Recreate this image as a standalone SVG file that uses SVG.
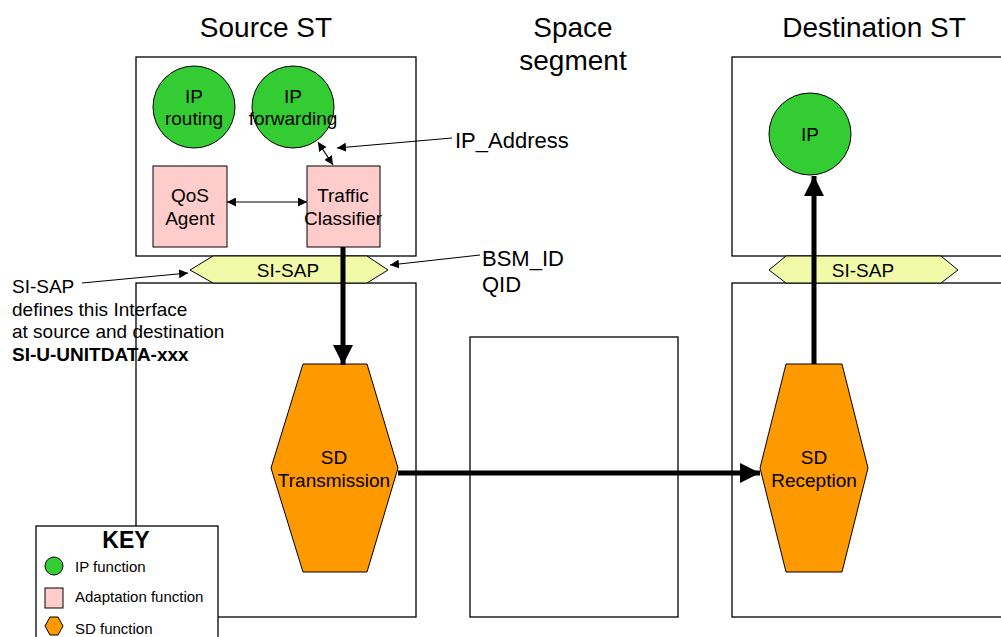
<svg xmlns="http://www.w3.org/2000/svg" width="1001" height="637" viewBox="0 0 1001 637">
<style>
text{font-family:"Liberation Sans",Arial,sans-serif;fill:#000}
.box{fill:#fff;stroke:#000;stroke-width:1.3}
.ip{fill:#33CC33;stroke:#000;stroke-width:1}
.ad{fill:#FFCCCC;stroke:#000;stroke-width:1}
.sd{fill:#FF9900;stroke:#000;stroke-width:1}
.sap{fill:#F0FAA8;stroke:#000;stroke-width:1}
.t19{font-size:19px;text-anchor:middle}
.t22{font-size:22px}
.title{font-size:28px;text-anchor:middle}
.thin{stroke:#000;stroke-width:1.2;fill:none}
.thick{stroke:#000;stroke-width:5;fill:none}
</style>
<defs>
<marker id="ah" viewBox="0 0 10 10" refX="10" refY="5" markerWidth="9" markerHeight="9" markerUnits="userSpaceOnUse" orient="auto-start-reverse"><path d="M0,0L10,5L0,10z" fill="#000"/></marker>
<marker id="ahb" viewBox="0 0 10 10" refX="10" refY="5" markerWidth="4" markerHeight="4" orient="auto"><path d="M0,0L10,5L0,10z" fill="#000"/></marker>
</defs>
<g id="titles">
<text class="title" x="266" y="37">Source ST</text>
<text class="title" x="573" y="37">Space</text>
<text class="title" x="573" y="70">segment</text>
<text class="title" x="874" y="37">Destination ST</text>
</g>
<g id="source-upper"><rect class="box" x="136" y="57" width="280" height="199"/></g>
<g id="source-lower"><rect class="box" x="136" y="283" width="280" height="334"/></g>
<g id="space-box"><rect class="box" x="470" y="337" width="208" height="280"/></g>
<g id="dest-upper"><rect class="box" x="732" y="57" width="280" height="199"/></g>
<g id="dest-lower"><rect class="box" x="732" y="283" width="280" height="334"/></g>
<g id="ip-routing"><circle class="ip" cx="194" cy="107" r="41"/><text class="t19" x="194" y="103">IP</text><text class="t19" x="194" y="125">routing</text></g>
<g id="ip-forwarding"><circle class="ip" cx="293" cy="107" r="41"/><text class="t19" x="293" y="103">IP</text><text class="t19" x="293" y="125">forwarding</text></g>
<g id="qos-agent"><rect class="ad" x="153" y="166" width="74" height="81"/><text class="t19" x="190" y="202">QoS</text><text class="t19" x="190" y="225">Agent</text></g>
<g id="traffic-classifier"><rect class="ad" x="307" y="166" width="73" height="81"/><text class="t19" x="343" y="202">Traffic</text><text class="t19" x="343" y="225">Classifier</text></g>
<g id="ip-dest"><circle class="ip" cx="810" cy="134" r="41"/><text class="t19" x="810" y="141">IP</text></g>
<g id="si-sap-src"><polygon class="sap" points="190,270 213,256 367,256 388,270 367,283 213,283"/><text class="t19" x="288" y="277">SI-SAP</text></g>
<g id="si-sap-dst"><polygon class="sap" points="769,270 786,256 941,256 958,270 941,283 786,283"/><text class="t19" x="863" y="277">SI-SAP</text></g>
<g id="sd-transmission"><polygon class="sd" points="303,364 367,364 398,468 367,572 303,572 271,468"/><text class="t19" x="334" y="464">SD</text><text class="t19" x="334" y="487">Transmission</text></g>
<g id="sd-reception"><polygon class="sd" points="786,364 842,364 868,468 842,572 786,572 760,468"/><text class="t19" x="814" y="464">SD</text><text class="t19" x="814" y="487">Reception</text></g>
<g id="connectors">
<line class="thick" x1="343" y1="247" x2="343" y2="365" marker-end="url(#ahb)"/>
<line class="thick" x1="398" y1="473" x2="760" y2="473" marker-end="url(#ahb)"/>
<line class="thick" x1="814" y1="364" x2="814" y2="176" marker-end="url(#ahb)"/>
<line class="thin" x1="227" y1="202" x2="307" y2="202" marker-start="url(#ah)" marker-end="url(#ah)"/>
<line class="thin" x1="318" y1="142" x2="333" y2="165" marker-start="url(#ah)" marker-end="url(#ah)"/>
<line class="thin" x1="452" y1="138" x2="337" y2="148" marker-end="url(#ah)"/>
<line class="thin" x1="480" y1="255" x2="390" y2="265" marker-end="url(#ah)"/>
<line class="thin" x1="82" y1="283" x2="188" y2="273" marker-end="url(#ah)"/>
</g>
<g id="labels">
<text class="t22" x="455" y="148">IP_Address</text>
<text class="t22" x="482" y="266">BSM_ID</text>
<text class="t22" x="482" y="292">QID</text>
<text x="12" y="293" font-size="19">SI-SAP</text>
<text x="12" y="316" font-size="19">defines this Interface</text>
<text x="12" y="338" font-size="19">at source and destination</text>
<text x="12" y="361" font-size="19" font-weight="bold">SI-U-UNITDATA-xxx</text>
</g>
<g id="key">
<rect class="box" x="36" y="526" width="182" height="120"/>
<text x="126" y="548" font-size="23" font-weight="bold" text-anchor="middle">KEY</text>
<circle class="ip" cx="54" cy="566" r="9"/>
<text x="75" y="572" font-size="15">IP function</text>
<rect class="ad" x="45" y="588" width="18" height="20"/>
<text x="75" y="602" font-size="15">Adaptation function</text>
<polygon class="sd" points="45,626 50,617 58,617 63,626 58,635 50,635"/>
<text x="75" y="634" font-size="15">SD function</text>
</g>
</svg>
